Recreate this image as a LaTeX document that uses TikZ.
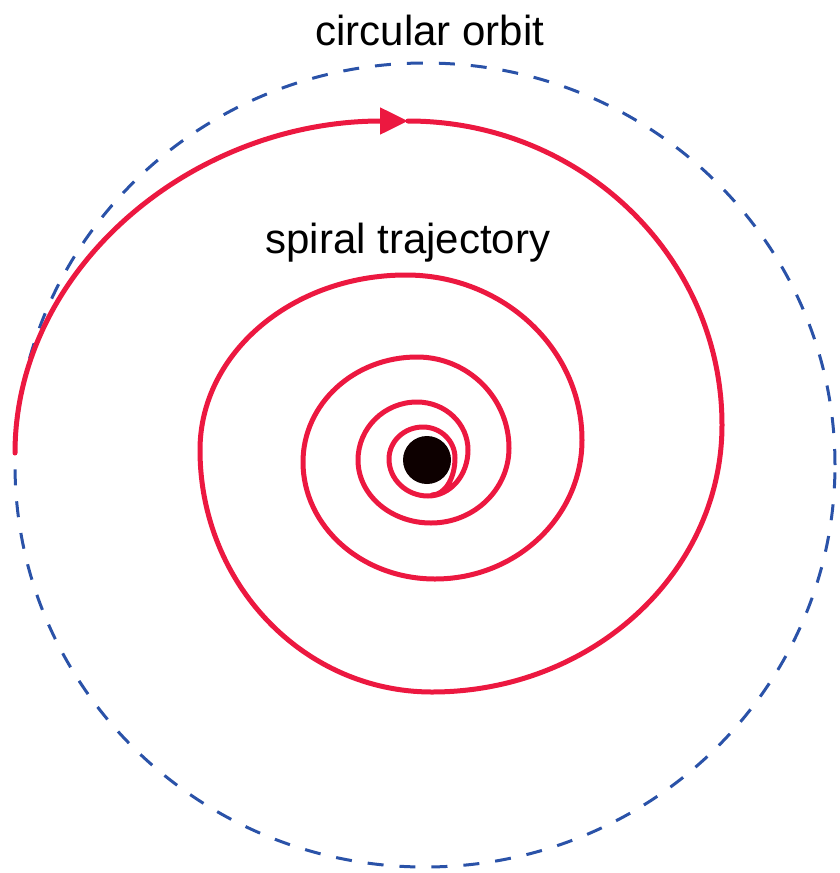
\documentclass[tikz,border=0pt]{standalone}
\usepackage{fontspec}
\setmainfont{Liberation Sans}
\usetikzlibrary{arrows.meta}
\definecolor{spiralred}{RGB}{236,24,64}
\definecolor{orbitblue}{RGB}{42,82,168}
\begin{document}
\begin{tikzpicture}[x=1pt,y=-1pt,
  orbit/.style={draw=orbitblue,line width=3pt,dash pattern=on 16pt off 16pt},
  spiralline/.style={draw=spiralred,line width=5pt,line cap=round,line join=round},
  label/.style={font=\fontsize{42}{50}\selectfont,anchor=base,inner sep=0pt}]
\useasboundingbox (0,0) rectangle (839,873);
% circular orbit
\draw[orbit] (425,465) ellipse [x radius=410pt, y radius=402pt];
% central body
\fill[black!95!red] (427,460) circle[radius=24pt];
% spiral quarter points
\coordinate (p0) at (15,453);
\coordinate (p1) at (408,121);
\coordinate (p2) at (722,425);
\coordinate (p3) at (432,692);
\coordinate (p4) at (200,450);
\coordinate (p5) at (406,275);
\coordinate (p6) at (582,440);
\coordinate (p7) at (435,579);
\coordinate (p8) at (303,462);
\coordinate (p9) at (417,357);
\coordinate (p10) at (509,448);
\coordinate (p11) at (431,523);
\coordinate (p12) at (358,460);
\coordinate (p13) at (417,402);
\coordinate (p14) at (468,450);
\coordinate (p15) at (428,496);
\coordinate (p16) at (389,459);
\coordinate (p17) at (423,427);
\coordinate (p18) at (455,458);
\coordinate (p19) at (432,495);
% first quarter with arrow
\draw[spiralline,-{Triangle[length=28pt,width=26pt]}] (p0) .. controls (15,269.6) and (191,121) .. (p1);
% rest of the spiral
\draw[spiralline] (p1)
  .. controls (581.4,121) and (722,257.1) .. (p2)
  .. controls (722,572.5) and (592.2,692) .. (p3)
  .. controls (303.9,692) and (200,583.7) .. (p4)
  .. controls (200,353.3) and (292.2,275) .. (p5)
  .. controls (503.2,275) and (582,348.9) .. (p6)
  .. controls (582,516.8) and (516.2,579) .. (p7)
  .. controls (362.1,579) and (303,526.6) .. (p8)
  .. controls (303,404) and (354,357) .. (p9)
  .. controls (467.8,357) and (509,397.7) .. (p10)
  .. controls (509,489.4) and (474.1,523) .. (p11)
  .. controls (390.7,523) and (358,494.8) .. (p12)
  .. controls (358,428) and (384.4,402) .. (p13)
  .. controls (445.2,402) and (468,423.5) .. (p14)
  .. controls (468,475.4) and (450.1,496) .. (p15)
  .. controls (406.5,496) and (389,479.4) .. (p16)
  .. controls (389,441.3) and (404.2,427) .. (p17)
  .. controls (440.7,427) and (455,440.9) .. (p18)
  .. controls (455,478.4) and (444.7,495) .. (p19);
% labels
\node[label] (orbitlabel) at (430,45) {circular orbit};
\node[label] (spirallabel) at (408,253) {spiral trajectory};
\end{tikzpicture}
\end{document}
